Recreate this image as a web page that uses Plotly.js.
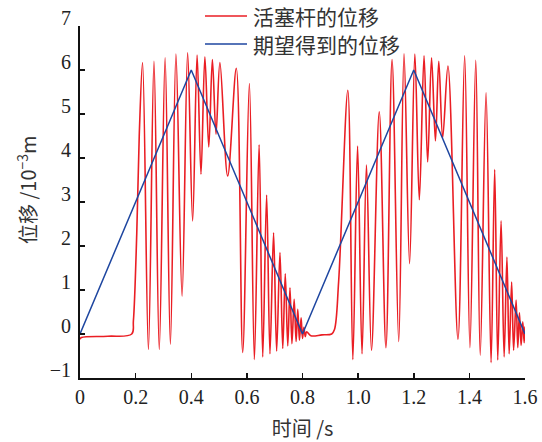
<!DOCTYPE html>
<html>
<head>
<meta charset="utf-8">
<script src="https://cdn.plot.ly/plotly-3.0.1.min.js"></script>
<style>html,body{margin:0;padding:0;background:#fff;}#chart{width:542px;height:442px;}</style>
</head>
<body>
<div id="chart"></div>
<script>
// Red: piston rod displacement (extrema)
const pistonT = [0, 0.005, 0.1, 0.186, 0.192, 0.204, 0.213, 0.225, 0.246, 0.266, 0.285, 0.306, 0.325, 0.345, 0.367, 0.387, 0.405, 0.421, 0.435, 0.449, 0.463, 0.476, 0.489, 0.503, 0.531, 0.562, 0.585, 0.609, 0.627, 0.644, 0.657, 0.671, 0.683, 0.696, 0.707, 0.719, 0.729, 0.738, 0.747, 0.755, 0.762, 0.770, 0.777, 0.783, 0.789, 0.795, 0.800, 0.805, 0.810, 0.815, 0.830, 0.870, 0.905, 0.915, 0.930, 0.963, 0.981, 0.998, 1.014, 1.030, 1.048, 1.076, 1.100, 1.122, 1.146, 1.165, 1.185, 1.204, 1.220, 1.237, 1.250, 1.264, 1.278, 1.290, 1.304, 1.323, 1.359, 1.383, 1.402, 1.423, 1.439, 1.460, 1.478, 1.491, 1.502, 1.514, 1.525, 1.535, 1.543, 1.552, 1.559, 1.568, 1.574, 1.580, 1.586, 1.592, 1.597, 1.600];
const pistonY = [-0.12, -0.08, -0.05, 0.0, 0.3, 2.27, 4.5, 6.17, -0.35, 6.2, -0.35, 6.28, -0.23, 6.36, 0.86, 6.39, 2.57, 6.34, 3.63, 6.3, 4.25, 6.24, 4.54, 6.17, 3.59, 6.04, -0.42, 5.69, -0.58, 4.3, -0.52, 3.16, -0.45, 2.3, -0.39, 1.85, -0.33, 1.37, -0.27, 1.05, -0.22, 0.79, -0.17, 0.56, -0.14, 0.37, -0.1, 0.15, -0.06, 0.05, -0.04, -0.02, 0.0, 0.1, 1.2, 5.54, -0.58, 4.27, -0.45, 3.84, -0.37, 5.05, -0.31, 6.24, -0.17, 6.37, 1.6, 6.36, 3.05, 6.32, 3.91, 6.28, 4.39, 6.2, 4.46, 6.09, -0.12, 6.32, -0.31, 6.22, -0.48, 5.48, -0.65, 3.74, -0.59, 2.57, -0.52, 1.75, -0.45, 1.18, -0.37, 0.77, -0.31, 0.48, -0.26, 0.28, -0.2, 0.17];

// Blue: desired displacement
const desiredT = [0, 0.4, 0.8, 1.2, 1.6];
const desiredY = [0, 6, 0, 6, 0];

const xTickVals = [0, 0.2, 0.4, 0.6, 0.8, 1.0, 1.2, 1.4, 1.6];
const xTickText = ['0', '0.2', '0.4', '0.6', '0.8', '1.0', '1.2', '1.4', '1.6'];
const yTickVals = [-1, 0, 1, 2, 3, 4, 5, 6, 7];
const yTickText = ['\u22121', '0', '1', '2', '3', '4', '5', '6', '7'];

const seriesNames = ['活塞杆的位移', '期望得到的位移'];
const seriesColors = ['rgb(234,30,36)', 'rgb(30,70,160)'];

const cjk = '"Noto Sans CJK SC", "Liberation Serif", serif';
const serif = '"Liberation Serif", "DejaVu Serif", serif';

const traces = [
  {x: pistonT, y: pistonY, name: seriesNames[0], mode: 'lines', showlegend: false,
   line: {color: seriesColors[0], width: 1.6, shape: 'spline', smoothing: 1.0}},
  {x: desiredT, y: desiredY, name: seriesNames[1], mode: 'lines', showlegend: false,
   line: {color: seriesColors[1], width: 1.5}}
];

// manual legend (pixel positions converted to paper coords)
const plotL = 80, plotW = 445, plotT = 26, plotH = 352;
const px = v => (v - plotL) / plotW;
const py = v => (plotT + plotH - v) / plotH;
const legendRows = [16, 44];
const shapes = [], annotations = [];
seriesNames.forEach((n, i) => {
  shapes.push({type: 'line', xref: 'paper', yref: 'paper', x0: px(205), x1: px(247),
               y0: py(legendRows[i]), y1: py(legendRows[i]), line: {color: seriesColors[i], width: 1.5}});
  annotations.push({xref: 'paper', yref: 'paper', x: px(251), y: py(legendRows[i]),
                    xanchor: 'left', yanchor: 'middle', showarrow: false, text: n,
                    font: {family: cjk, size: 21, color: '#333'}});
});
annotations.push({xref: 'paper', yref: 'paper', x: px(27), y: py(190), xanchor: 'center', yanchor: 'middle',
                  textangle: -90, showarrow: false,
                  text: '位移 /10<sup>−3</sup>m', font: {family: cjk, size: 20, color: '#333'}});

const layout = {
  width: 542, height: 442,
  margin: {l: 80, r: 17, t: 26, b: 64, autoexpand: false},
  paper_bgcolor: '#fff', plot_bgcolor: '#fff',
  showlegend: false,
  xaxis: {range: [0, 1.6], tickvals: xTickVals, ticktext: xTickText,
          showgrid: false, zeroline: false, showline: true, linecolor: '#111', linewidth: 2,
          ticks: 'inside', ticklen: 5, tickwidth: 1.5, tickcolor: '#111',
          tickfont: {family: serif, size: 20, color: '#222'},
          title: {text: '时间 /s', font: {family: cjk, size: 20, color: '#333'}, standoff: 16}},
  yaxis: {range: [-1, 7], tickvals: yTickVals, ticktext: yTickText,
          showgrid: false, zeroline: false, showline: true, linecolor: '#111', linewidth: 2,
          ticks: 'inside', ticklen: 5, tickwidth: 1.5, tickcolor: '#111', ticklabelshift: -8,
          ticklabelstandoff: 3,
          tickfont: {family: serif, size: 20, color: '#222'}},
  shapes: shapes,
  annotations: annotations
};

Plotly.newPlot('chart', traces, layout, {displayModeBar: false, staticPlot: true});
</script>
</body>
</html>
